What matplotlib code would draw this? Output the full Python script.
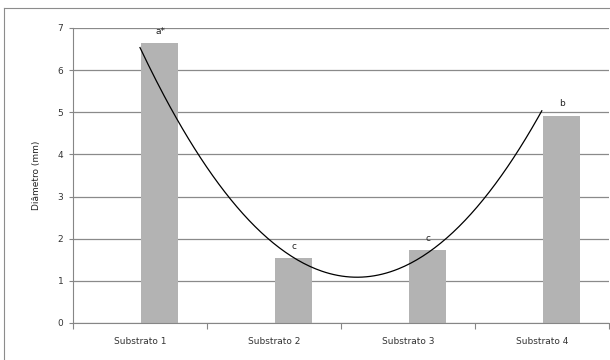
import numpy as np
import matplotlib.pyplot as plt
from matplotlib.lines import Line2D

categorias = ["Substrato 1", "Substrato 2", "Substrato 3", "Substrato 4"]
diametro = [6.65, 1.54, 1.73, 4.92]
letras = ["a*", "c", "c", "b"]

x = np.arange(1, len(categorias) + 1)

fig = plt.figure(figsize=(6.1, 3.6), dpi=100)
ax = fig.add_axes([0.1197, 0.1028, 0.8783, 0.8195])

# moldura do gráfico (só as bordas esquerda e superior aparecem)
fig.lines.append(Line2D([3.5 / 610, 3.5 / 610], [0, 352 / 360], transform=fig.transFigure,
                        color="#8c8c8c", linewidth=0.8))
fig.lines.append(Line2D([3.5 / 610, 1], [352 / 360, 352 / 360], transform=fig.transFigure,
                        color="#8c8c8c", linewidth=0.8))

ax.bar(x + 0.0075, diametro, width=0.28, align="edge", color="#b3b3b3", zorder=2)

# linha de tendência polinomial (ordem 2)
coef = np.polyfit(x, diametro, 2)
xs = np.linspace(1, 4, 200)
ax.plot(xs, np.polyval(coef, xs), color="black", linewidth=0.9, zorder=3)

for xi, yi, txt in zip(x, diametro, letras):
    ax.text(xi + 0.15, yi + 0.17, txt, ha="center", va="bottom", fontsize=6.5, color="#222222")

ax.set_xlim(0.5, 4.5)
ax.set_ylim(0, 7)
ax.set_yticks(range(0, 8))
ax.set_xticks(x)
ax.set_xticklabels(categorias)
ax.set_xticks(np.arange(0.5, 4.6, 1), minor=True)
ax.tick_params(axis="x", which="major", length=0, pad=10, labelsize=6.5, labelcolor="#333333")
ax.tick_params(axis="x", which="minor", length=4, color="#868686", width=0.8)
ax.tick_params(axis="y", length=3, color="#868686", width=0.8, labelsize=6.5, labelcolor="#333333", pad=4)

ax.yaxis.grid(True, color="#8a8a8a", linewidth=0.9, zorder=0)
ax.set_axisbelow(True)
for s in ["top", "right"]:
    ax.spines[s].set_visible(False)
for s in ["left", "bottom"]:
    ax.spines[s].set_color("#868686")
    ax.spines[s].set_linewidth(0.8)

ax.set_ylabel("Diâmetro (mm)", fontsize=6.5, color="#222222", labelpad=12)

plt.savefig("out.png", dpi=100)
